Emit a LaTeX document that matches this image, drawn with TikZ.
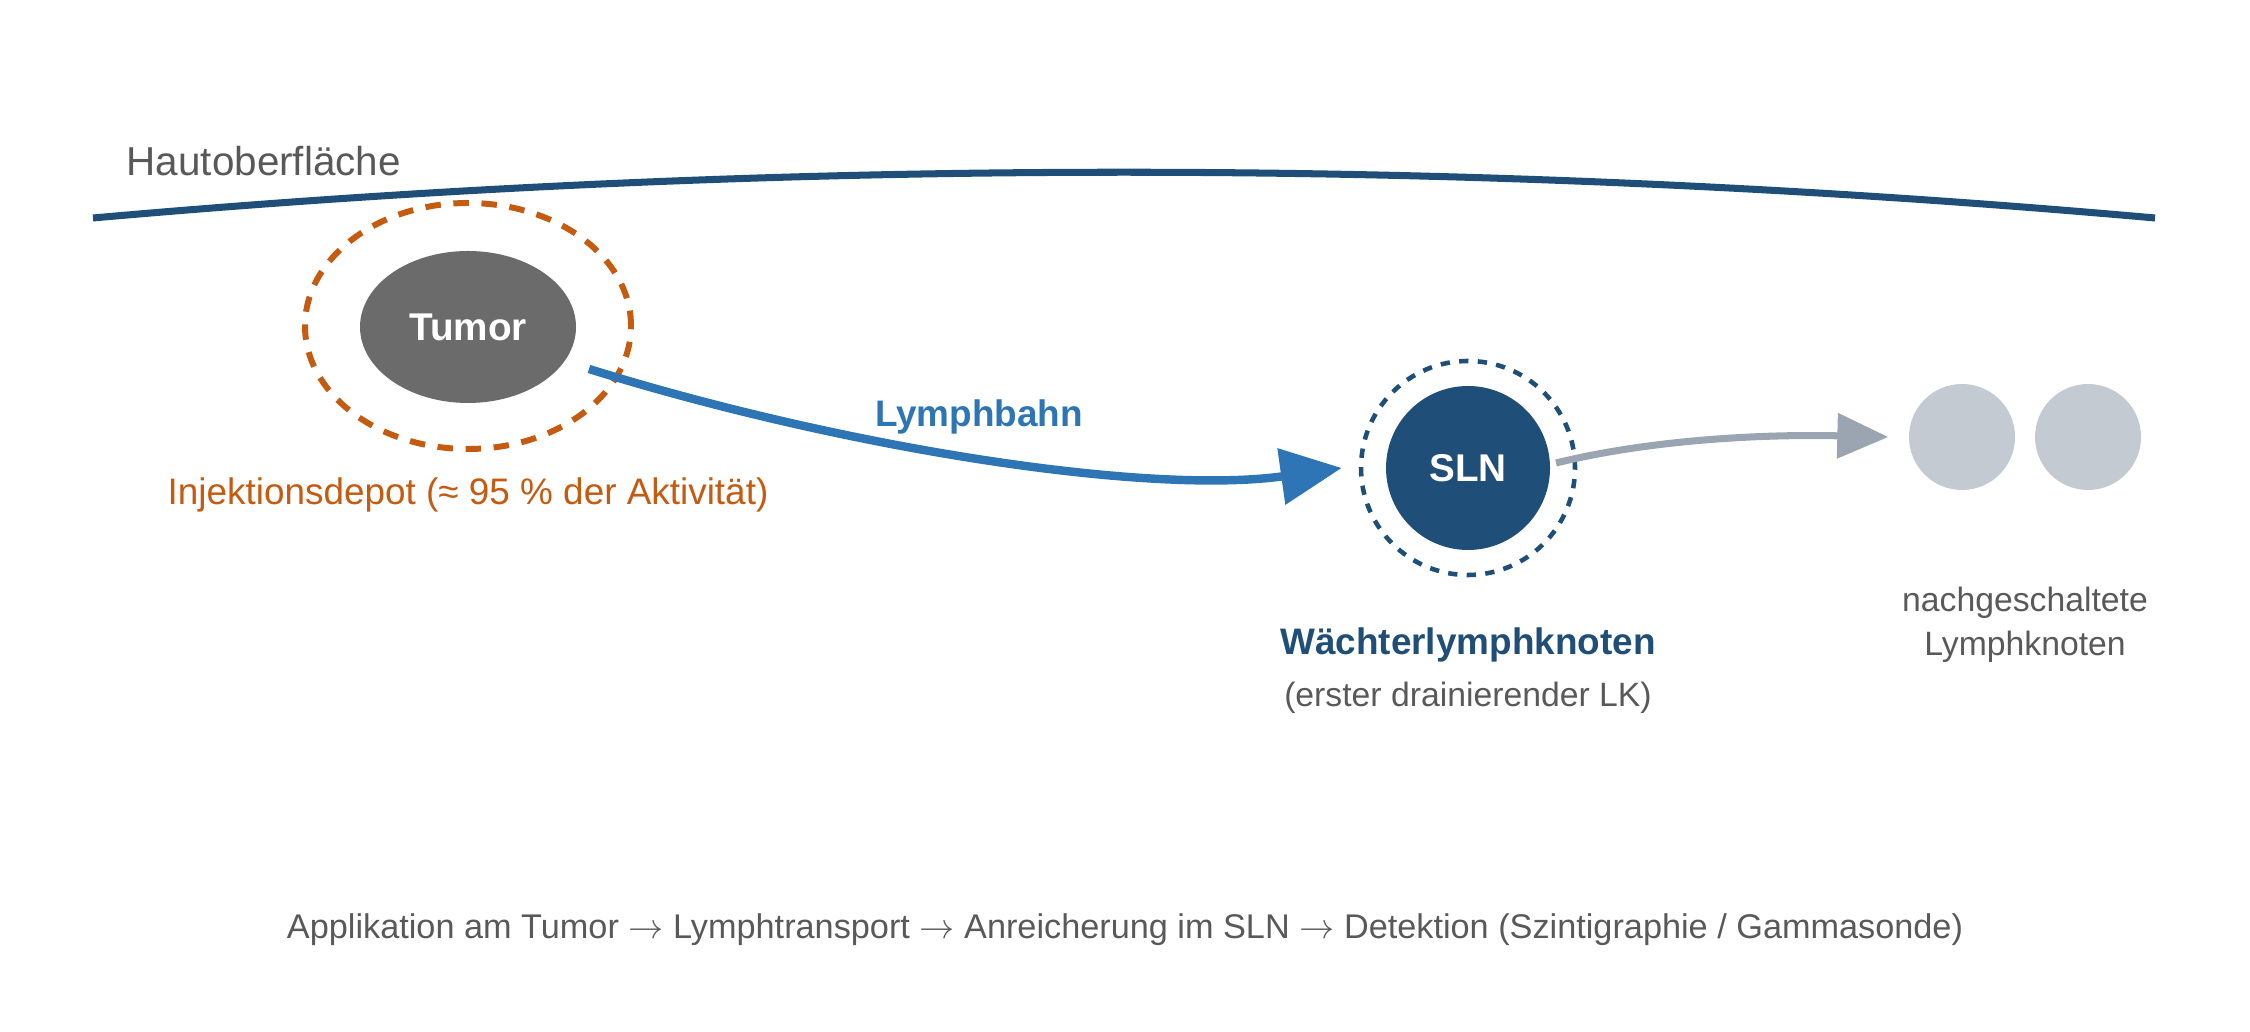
\documentclass[tikz,border=0pt]{standalone}
\usepackage{fontspec}
\setmainfont{Liberation Sans}
\usetikzlibrary{shapes.geometric,arrows.meta}
\definecolor{hautblau}{HTML}{1F4E79}
\definecolor{lymphblau}{HTML}{2E75B6}
\definecolor{depotorange}{HTML}{C55A11}
\definecolor{textgrau}{HTML}{595959}
\definecolor{tumorgrau}{HTML}{6B6B6B}
\definecolor{pfeilgrau}{HTML}{9AA5B1}
\definecolor{knotengrau}{HTML}{C3CAD2}
\newcommand{\pf}{$\rightarrow$}
\begin{document}
\begin{tikzpicture}[line join=round,
	fett/.style={font=\fontsize{11}{13}\selectfont\bfseries},
	mittel/.style={font=\fontsize{10.5}{12.6}\selectfont},
	klein/.style={font=\fontsize{9.6}{12.5}\selectfont, text=textgrau, align=center},
	kreis/.style={circle, inner sep=0pt}]
	\useasboundingbox (0,0) rectangle (22.5,10.31);
	% Haut
	\draw[hautblau, line width=2pt] (0.93,8.13) .. controls (7.80,8.74) and (14.68,8.74) .. (21.55,8.13);
	\node[anchor=west, inner sep=0pt, text=textgrau, font=\fontsize{11.5}{14}\selectfont] (haut) at (1.26,8.70) {Hautoberfläche};
	% Tumor mit Depot
	\node[ellipse, draw=depotorange, line width=1.7pt, dash pattern=on 4.4pt off 3.6pt, minimum width=3.26cm, minimum height=2.46cm] (depot) at (4.68,7.05) {};
	\node[ellipse, fill=tumorgrau, text=white, fett, minimum width=2.16cm, minimum height=1.52cm, inner sep=0pt] (tumor) at (4.68,7.04) {Tumor};
	\node[mittel, text=depotorange] (depotlabel) at (4.68,5.36) {Injektionsdepot (≈ 95 \% der Aktivität)};
	% SLN
	\node[kreis, draw=hautblau, line width=1.3pt, dash pattern=on 2.65pt off 2.65pt, minimum size=2.14cm] (slnring) at (14.68,5.63) {};
	\node[kreis, fill=hautblau, text=white, fett, minimum size=1.64cm] (sln) at (14.68,5.63) {SLN};
	\node[mittel, font=\fontsize{10.5}{12.6}\selectfont\bfseries, text=hautblau] (waechter) at (14.68,3.86) {Wächterlymphknoten};
	\node[klein] (waechterinfo) at (14.68,3.33) {(erster drainierender LK)};
	% nachgeschaltete Knoten
	\node[kreis, fill=knotengrau, minimum size=1.06cm] (ln1) at (19.62,5.94) {};
	\node[kreis, fill=knotengrau, minimum size=1.06cm] (ln2) at (20.88,5.94) {};
	\node[klein] (lnlabel) at (20.25,4.06) {nachgeschaltete\\Lymphknoten};
	% Lymphbahn
	\coordinate (lymphstart) at (5.89,6.62);
	\coordinate (lymphende) at ([xshift=-0.17cm]slnring.west);
	\draw[lymphblau, line width=2.4pt, -{Triangle[length=0.61cm,width=0.55cm]}] (lymphstart) .. controls (8.50,5.81) and (11.50,5.36) .. (lymphende);
	\node[mittel, font=\fontsize{10.5}{12.6}\selectfont\bfseries, text=lymphblau] (lymphbahn) at (9.79,6.14) {Lymphbahn};
	\coordinate (weiterstart) at (15.56,5.68);
	\coordinate (weiterende) at ([xshift=-0.2cm]ln1.west);
	\draw[pfeilgrau, line width=2pt, -{Triangle[length=0.51cm,width=0.44cm]}] (weiterstart) .. controls (16.50,5.91) and (17.60,5.97) .. (weiterende);
	% Ablauf
	\node[klein, font=\fontsize{9.75}{12}\selectfont] (ablauf) at (11.25,1.01) {Applikation am Tumor \pf{} Lymphtransport \pf{} Anreicherung im SLN \pf{} Detektion (Szintigraphie / Gammasonde)};
\end{tikzpicture}
\end{document}
